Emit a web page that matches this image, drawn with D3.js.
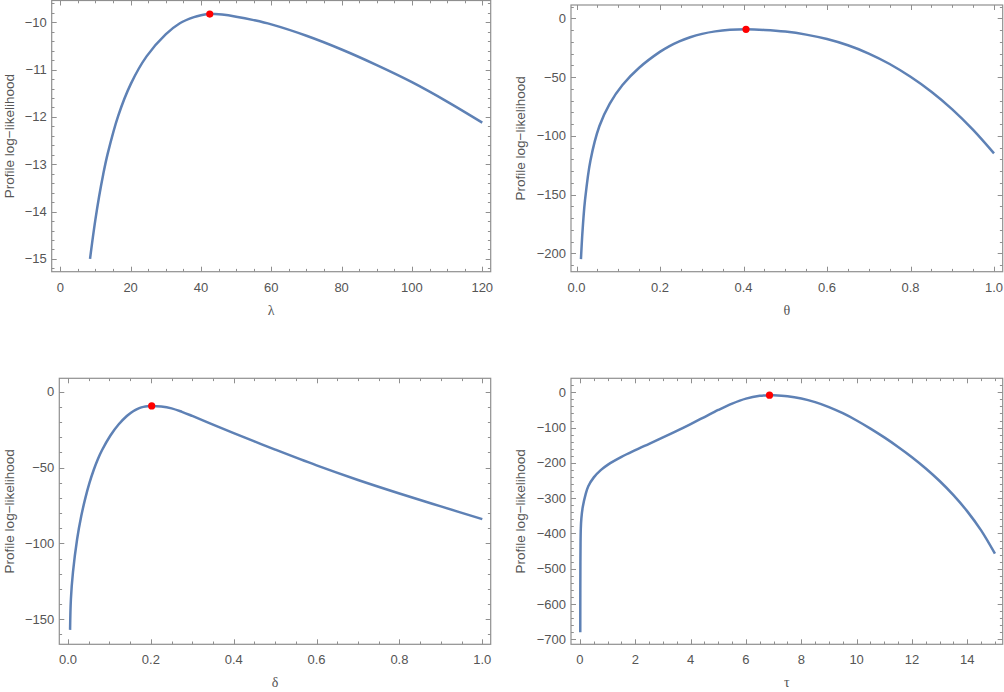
<!DOCTYPE html>
<html>
<head>
<meta charset="utf-8">
<script src="https://cdn.jsdelivr.net/npm/d3@7"></script>
<style>
  html, body { margin: 0; padding: 0; background: #fff; }
  svg { display: block; }
</style>
</head>
<body>
<svg id="chart" width="1004" height="692"></svg>
<script>
// ---------------- data ----------------
const lambdaX = [8.45, 9.025, 9.974, 11.02, 12.18, 13.46, 16.44, 20.09, 24.53, 29.96, 34, 38, 40, 41.5, 42.5, 44, 46, 50, 55, 60, 70, 80, 90, 100, 110, 120];
const lambdaY = [-15.0, -14.671, -14.17, -13.686, -13.22, -12.781, -11.981, -11.296, -10.721, -10.256, -10.02, -9.89, -9.85, -9.832, -9.826, -9.827, -9.838, -9.882, -9.955, -10.045, -10.285, -10.575, -10.905, -11.265, -11.675, -12.12];
const lambdaPeak = [42.5, -9.826];

const thetaX = [0.0106, 0.01355, 0.01655, 0.0202, 0.0333, 0.0549, 0.0797, 0.1106, 0.1494, 0.1996, 0.2228, 0.2462, 0.2722, 0.3008, 0.3324, 0.3674, 0.406, 0.45, 0.5, 0.55, 0.6, 0.65, 0.7, 0.75, 0.8, 0.85, 0.9, 0.95, 1.0];
const thetaY = [-205, -185.7, -170.3, -155.4, -121.2, -91.7, -72.6, -56.6, -42.3, -28.6, -23.65, -19.6, -16.1, -13.25, -11.15, -9.85, -9.4, -9.9, -11.3, -13.9, -17.7, -23, -30, -38.9, -49.8, -62.5, -77.5, -95, -115];
const thetaPeak = [0.406, -9.4];

const deltaX = [0.005, 0.007, 0.012, 0.022, 0.032, 0.042, 0.052, 0.062, 0.072, 0.082, 0.102, 0.122, 0.142, 0.152, 0.162, 0.172, 0.182, 0.192, 0.202, 0.225, 0.25, 0.275, 0.3, 0.35, 0.4, 0.45, 0.5, 0.6, 0.7, 0.8, 0.9, 1.0];
const deltaY = [-157, -136.8, -119, -97.3, -82, -70, -60, -51.65, -44.55, -38.65, -29.05, -21.65, -16.05, -13.9, -12.15, -10.9, -10.03, -9.55, -9.4, -9.76, -11, -13.3, -16, -21.7, -27.3, -32.8, -38.2, -48.6, -58.2, -67.1, -75.6, -84];
const deltaPeak = [0.202, -9.4];

const tauX = [0.01, 0.012, 0.015, 0.02, 0.03, 0.05, 0.1, 0.2, 0.3, 0.5, 0.75, 1, 1.5, 2, 2.5, 3, 3.5, 4, 4.5, 5, 5.5, 6, 6.5, 6.85, 7, 7.5, 8, 8.5, 9, 9.5, 10, 10.5, 11, 11.5, 12, 12.5, 13, 13.5, 14, 14.5, 15];
const tauY = [-680, -560, -480, -425, -385, -357, -325, -290, -266, -241, -220.5, -205.5, -183, -164, -146, -128, -109.5, -90, -70, -50, -32, -18, -10, -8, -8.2, -11, -17.5, -27.8, -41.8, -59.3, -79.8, -102.8, -127.8, -154.8, -183.8, -215.8, -251.3, -291.3, -337.3, -391.3, -457.3];
const tauPeak = [6.85, -8];

const yTitle = "Profile log\u2212likelihood";
const xTitles = ["\u03bb", "\u03b8", "\u03b4", "\u03c4"];

// ---------------- drawing ----------------
const svg = d3.select("#chart");
const FRAME = "#8f8f8f", TXT = "#555", LINE = "#5e81b5";
const minus = s => s.replace("-", "\u2212");

function panel(cfg) {
  const x = d3.scaleLinear().domain(cfg.xd).range([cfg.x0, cfg.x1]);
  const y = d3.scaleLinear().domain(cfg.yd).range([cfg.y1, cfg.y0]);
  const g = svg.append("g");

  const ticksIn = (lo, hi, step) => {
    const out = [];
    const start = Math.ceil(lo / step - 1e-9);
    for (let k = start; k * step <= hi + 1e-9; k++) out.push(+(k * step).toFixed(6));
    return out;
  };
  const xMaj = ticksIn(cfg.xd[0], cfg.xd[1], cfg.xMajor);
  const xMin = ticksIn(cfg.xd[0], cfg.xd[1], cfg.xMinor).filter(v => !xMaj.some(m => Math.abs(m - v) < 1e-9));
  const yMaj = ticksIn(cfg.yd[0], cfg.yd[1], cfg.yMajor);
  const yMin = ticksIn(cfg.yd[0], cfg.yd[1], cfg.yMinor).filter(v => !yMaj.some(m => Math.abs(m - v) < 1e-9));

  const tk = g.append("g").attr("stroke", FRAME).attr("stroke-width", 1);
  const L = 5, l = 2.8;
  const drawX = (vals, len) => vals.forEach(v => {
    const px = Math.round(x(v)) + 0.5;
    tk.append("line").attr("x1", px).attr("x2", px).attr("y1", cfg.y1).attr("y2", cfg.y1 - len);
    tk.append("line").attr("x1", px).attr("x2", px).attr("y1", cfg.y0).attr("y2", cfg.y0 + len);
  });
  const drawY = (vals, len) => vals.forEach(v => {
    const py = Math.round(y(v)) + 0.5;
    tk.append("line").attr("y1", py).attr("y2", py).attr("x1", cfg.x0).attr("x2", cfg.x0 + len);
    tk.append("line").attr("y1", py).attr("y2", py).attr("x1", cfg.x1).attr("x2", cfg.x1 - len);
  });
  drawX(xMaj, L); drawX(xMin, l); drawY(yMaj, L); drawY(yMin, l);

  g.append("rect")
    .attr("x", cfg.x0).attr("y", cfg.y0)
    .attr("width", cfg.x1 - cfg.x0).attr("height", cfg.y1 - cfg.y0)
    .attr("fill", "none").attr("stroke", FRAME).attr("stroke-width", 1.2);

  // tick labels
  const font = "'Liberation Sans', Arial, sans-serif";
  g.append("g").selectAll("text").data(xMaj).join("text")
    .attr("x", d => x(d)).attr("y", cfg.y1 + 20)
    .attr("text-anchor", "middle").attr("font-family", font).attr("font-size", 13)
    .attr("fill", TXT).text(d => minus(d3.format(cfg.xFmt)(d)));
  g.append("g").selectAll("text").data(yMaj).join("text")
    .attr("x", cfg.x0 - 5).attr("y", d => y(d)).attr("dy", "0.35em")
    .attr("text-anchor", "end").attr("font-family", font).attr("font-size", 13)
    .attr("fill", TXT).text(d => minus(d3.format(cfg.yFmt)(d)));

  // axis titles
  g.append("text")
    .attr("transform", `translate(${cfg.yTitleX},${(cfg.y0 + cfg.y1) / 2}) rotate(-90)`)
    .attr("text-anchor", "middle").attr("dy", "0.35em")
    .attr("font-family", font).attr("font-size", 13.5).attr("fill", TXT)
    .text(yTitle);
  g.append("text")
    .attr("x", (cfg.x0 + cfg.x1) / 2).attr("y", cfg.y1 + 43)
    .attr("text-anchor", "middle")
    .attr("font-family", "'Liberation Serif', 'DejaVu Serif', serif").attr("font-size", 14)
    .attr("fill", TXT).text(cfg.xTitle);

  // curve
  const pts = cfg.xs.map((v, i) => [v, cfg.ys[i]]);
  g.append("path").datum(pts)
    .attr("fill", "none").attr("stroke", LINE).attr("stroke-width", 2.5)
    .attr("stroke-linejoin", "round")
    .attr("d", d3.line().x(d => x(d[0])).y(d => y(d[1])).curve(d3.curveCatmullRom.alpha(0.5)));

  g.append("circle")
    .attr("cx", x(cfg.peak[0])).attr("cy", y(cfg.peak[1])).attr("r", 3.6)
    .attr("fill", "#ff0000");
}

panel({ x0: 51.7, x1: 490.7, y0: 0.5, y1: 271.7, xd: [-2.45, 122.4], yd: [-15.27, -9.54],
  xMajor: 20, xMinor: 5, yMajor: 1, yMinor: 0.2, xFmt: "d", yFmt: "d",
  xs: lambdaX, ys: lambdaY, peak: lambdaPeak, xTitle: xTitles[0], yTitleX: 9 });
panel({ x0: 571, x1: 1002.7, y0: 5, y1: 271.7, xd: [-0.0132, 1.0208], yd: [-215.7, 11.3],
  xMajor: 0.2, xMinor: 0.05, yMajor: 50, yMinor: 10, xFmt: ".1f", yFmt: "d",
  xs: thetaX, ys: thetaY, peak: thetaPeak, xTitle: xTitles[1], yTitleX: 520 });
panel({ x0: 59.3, x1: 490.7, y0: 378.3, y1: 644.3, xd: [-0.021, 1.0203], yd: [-166.5, 8.8],
  xMajor: 0.2, xMinor: 0.05, yMajor: 50, yMinor: 10, xFmt: ".1f", yFmt: "d",
  xs: deltaX, ys: deltaY, peak: deltaPeak, xTitle: xTitles[2], yTitleX: 9 });
panel({ x0: 571, x1: 1002.7, y0: 378.3, y1: 644.3, xd: [-0.325, 15.28], yd: [-714, 39.7],
  xMajor: 2, xMinor: 0.5, yMajor: 100, yMinor: 20, xFmt: "d", yFmt: "d",
  xs: tauX, ys: tauY, peak: tauPeak, xTitle: xTitles[3], yTitleX: 520 });
</script>
</body>
</html>
